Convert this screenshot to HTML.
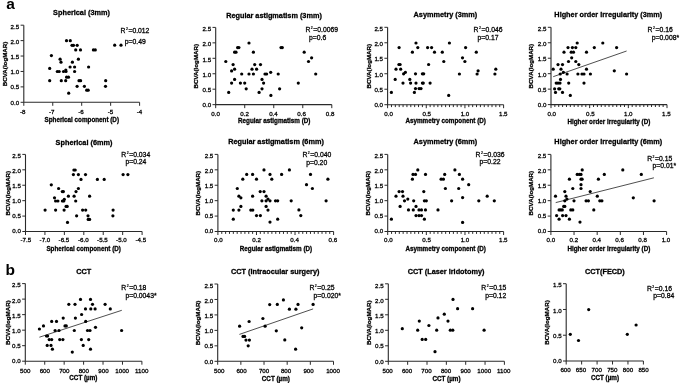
<!DOCTYPE html>
<html><head><meta charset="utf-8"><title>Figure</title>
<style>
html,body{margin:0;padding:0;background:#fff;}
body{width:685px;height:383px;overflow:hidden;}
svg{display:block;filter:grayscale(1);}
text{font-family:"Liberation Sans",sans-serif;fill:#000;stroke:#000;stroke-width:0.28px;}
.tl{font-size:6.2px;}
.ti{font-size:7.3px;font-weight:bold;}
.xl{font-size:6.3px;font-weight:bold;}
.st{font-size:6.8px;}
.yl{font-size:6.2px;font-weight:bold;}
.sup{font-size:3.4px;baseline-shift:3.1px;stroke-width:0.2px;}
.pl{font-size:15.5px;font-weight:bold;fill:#000;stroke:none;}
.ax{fill:none;stroke:#2a2a2a;stroke-width:1.1;}
.tk{fill:none;stroke:#2a2a2a;stroke-width:1;}
.rl{fill:none;stroke:#222;stroke-width:0.8;}
.dt circle{fill:#000;}
</style></head>
<body><svg width="685" height="383" viewBox="0 0 685 383">
<rect width="100%" height="100%" fill="#fff"/>
<path d="M23.8 25.2V102.3H139.6" class="ax"/>
<text x="19.2" y="104.55" class="tl" text-anchor="end">0.0</text>
<text x="19.2" y="89.45" class="tl" text-anchor="end">0.5</text>
<text x="19.2" y="74.35" class="tl" text-anchor="end">1.0</text>
<text x="19.2" y="59.25" class="tl" text-anchor="end">1.5</text>
<text x="19.2" y="44.15" class="tl" text-anchor="end">2.0</text>
<text x="19.2" y="29.05" class="tl" text-anchor="end">2.5</text>
<text x="22.65" y="113.6" class="tl" text-anchor="middle">-8</text>
<text x="51.75" y="113.6" class="tl" text-anchor="middle">-7</text>
<text x="81.05" y="113.6" class="tl" text-anchor="middle">-6</text>
<text x="110.45" y="113.6" class="tl" text-anchor="middle">-5</text>
<text x="139.55" y="113.6" class="tl" text-anchor="middle">-4</text>
<path d="M20.6 102.3H23.8M20.6 86.88H23.8M20.6 71.46H23.8M20.6 56.04H23.8M20.6 40.62H23.8M20.6 25.2H23.8M23.8 102.3V105.8M52.75 102.3V105.8M81.7 102.3V105.8M110.65 102.3V105.8M139.6 102.3V105.8" class="tk"/>
<text x="81.5" y="15.2" class="ti" text-anchor="middle">Spherical (3mm)</text>
<text x="81.75" y="121.7" class="xl" text-anchor="middle">Spherical component (D)</text>
<text transform="translate(6.8 63.95) rotate(-90)" x="0" y="0" class="yl" text-anchor="middle">BCVA(logMAR)</text>
<text x="120.5" y="32.8" class="st">R<tspan class="sup" dx="0.5">2</tspan><tspan dx="0.6">=0.012</tspan></text>
<text x="124.8" y="43.9" class="st">p=0.49</text>
<g class="dt"><circle cx="66.5" cy="40.7" r="1.6"/><circle cx="70.3" cy="40.7" r="1.6"/><circle cx="72" cy="45.3" r="1.6"/><circle cx="73.5" cy="45.3" r="1.6"/><circle cx="77.2" cy="45.3" r="1.6"/><circle cx="75.7" cy="49.9" r="1.6"/><circle cx="80.5" cy="49.9" r="1.6"/><circle cx="93.4" cy="49.9" r="1.6"/><circle cx="95.3" cy="49.9" r="1.6"/><circle cx="114.7" cy="45.2" r="1.6"/><circle cx="121" cy="45.2" r="1.6"/><circle cx="51.4" cy="55.6" r="1.6"/><circle cx="60.1" cy="59.2" r="1.6"/><circle cx="61" cy="62.2" r="1.6"/><circle cx="78.4" cy="59.2" r="1.6"/><circle cx="72.4" cy="62.2" r="1.6"/><circle cx="70.1" cy="67" r="1.6"/><circle cx="74.6" cy="67" r="1.6"/><circle cx="88.6" cy="67" r="1.6"/><circle cx="49.7" cy="68.4" r="1.6"/><circle cx="57.3" cy="71.5" r="1.6"/><circle cx="59.2" cy="71.5" r="1.6"/><circle cx="63.5" cy="71.5" r="1.6"/><circle cx="65.8" cy="70" r="1.6"/><circle cx="66" cy="71.5" r="1.6"/><circle cx="74.6" cy="71.5" r="1.6"/><circle cx="66.6" cy="77.2" r="1.6"/><circle cx="68.5" cy="77.2" r="1.6"/><circle cx="49.7" cy="80.7" r="1.6"/><circle cx="61.3" cy="80.7" r="1.6"/><circle cx="65.7" cy="80.7" r="1.6"/><circle cx="79" cy="80.7" r="1.6"/><circle cx="80.6" cy="80.7" r="1.6"/><circle cx="105.7" cy="80.7" r="1.6"/><circle cx="77.1" cy="86.3" r="1.6"/><circle cx="84.4" cy="86.3" r="1.6"/><circle cx="105.5" cy="86.3" r="1.6"/><circle cx="86.7" cy="90.2" r="1.6"/><circle cx="88.2" cy="90.2" r="1.6"/><circle cx="68.7" cy="93.2" r="1.6"/></g>
<path d="M215.7 27.4V104.65H331.8" class="ax"/>
<text x="211.1" y="106.9" class="tl" text-anchor="end">0.0</text>
<text x="211.1" y="91.77" class="tl" text-anchor="end">0.5</text>
<text x="211.1" y="76.64" class="tl" text-anchor="end">1.0</text>
<text x="211.1" y="61.51" class="tl" text-anchor="end">1.5</text>
<text x="211.1" y="46.38" class="tl" text-anchor="end">2.0</text>
<text x="211.1" y="31.25" class="tl" text-anchor="end">2.5</text>
<text x="215.65" y="115.95" class="tl" text-anchor="middle">0.0</text>
<text x="244.65" y="115.95" class="tl" text-anchor="middle">0.2</text>
<text x="273.45" y="115.95" class="tl" text-anchor="middle">0.4</text>
<text x="301.65" y="115.95" class="tl" text-anchor="middle">0.6</text>
<text x="330.15" y="115.95" class="tl" text-anchor="middle">0.8</text>
<path d="M212.5 104.65H215.7M212.5 89.2H215.7M212.5 73.75H215.7M212.5 58.3H215.7M212.5 42.85H215.7M212.5 27.4H215.7M215.7 104.65V108.15M244.72 104.65V108.15M273.75 104.65V108.15M302.77 104.65V108.15M331.8 104.65V108.15" class="tk"/>
<text x="274" y="17.8" class="ti" text-anchor="middle">Regular astigmatism (3mm)</text>
<text x="274.25" y="123.4" class="xl" text-anchor="middle">Regular astigmatism (D)</text>
<text transform="translate(197.7 66.23) rotate(-90)" x="0" y="0" class="yl" text-anchor="middle">BCVA(logMAR)</text>
<text x="305.4" y="31.7" class="st">R<tspan class="sup" dx="0.5">2</tspan><tspan dx="0.6">=0.0069</tspan></text>
<text x="309.1" y="39.7" class="st">p=0.6</text>
<g class="dt"><circle cx="249" cy="43" r="1.6"/><circle cx="237.6" cy="47.6" r="1.6"/><circle cx="238.9" cy="47.6" r="1.6"/><circle cx="234.6" cy="52.2" r="1.6"/><circle cx="236" cy="52.2" r="1.6"/><circle cx="253.4" cy="52.2" r="1.6"/><circle cx="225.8" cy="61.5" r="1.6"/><circle cx="233.1" cy="64.6" r="1.6"/><circle cx="254.7" cy="64.6" r="1.6"/><circle cx="260.5" cy="64.6" r="1.6"/><circle cx="231.6" cy="70.9" r="1.6"/><circle cx="234.6" cy="69.2" r="1.6"/><circle cx="252" cy="69.2" r="1.6"/><circle cx="256.6" cy="69.2" r="1.6"/><circle cx="241.7" cy="74" r="1.6"/><circle cx="249" cy="74" r="1.6"/><circle cx="253.4" cy="74" r="1.6"/><circle cx="265" cy="74" r="1.6"/><circle cx="266.6" cy="74" r="1.6"/><circle cx="270.7" cy="72.3" r="1.6"/><circle cx="234.6" cy="79.4" r="1.6"/><circle cx="262" cy="79.4" r="1.6"/><circle cx="231.6" cy="83.1" r="1.6"/><circle cx="240.4" cy="83.1" r="1.6"/><circle cx="244.7" cy="83.1" r="1.6"/><circle cx="263.6" cy="83.1" r="1.6"/><circle cx="246.2" cy="88.8" r="1.6"/><circle cx="262" cy="88.8" r="1.6"/><circle cx="228.7" cy="92.4" r="1.6"/><circle cx="259.1" cy="92.4" r="1.6"/><circle cx="270.9" cy="95.4" r="1.6"/><circle cx="281" cy="47.6" r="1.6"/><circle cx="282.3" cy="47.6" r="1.6"/><circle cx="304.2" cy="52.2" r="1.6"/><circle cx="311.6" cy="57.8" r="1.6"/><circle cx="308.5" cy="61.5" r="1.6"/><circle cx="278.2" cy="74" r="1.6"/><circle cx="315.7" cy="74" r="1.6"/><circle cx="298.3" cy="83.1" r="1.6"/><circle cx="279.6" cy="88.8" r="1.6"/></g>
<path d="M387.6 27.3V104.7H503.6" class="ax"/>
<text x="383" y="106.95" class="tl" text-anchor="end">0.0</text>
<text x="383" y="91.79" class="tl" text-anchor="end">0.5</text>
<text x="383" y="76.63" class="tl" text-anchor="end">1.0</text>
<text x="383" y="61.47" class="tl" text-anchor="end">1.5</text>
<text x="383" y="46.31" class="tl" text-anchor="end">2.0</text>
<text x="383" y="31.15" class="tl" text-anchor="end">2.5</text>
<text x="388.65" y="116" class="tl" text-anchor="middle">0.0</text>
<text x="426.75" y="116" class="tl" text-anchor="middle">0.5</text>
<text x="464.95" y="116" class="tl" text-anchor="middle">1.0</text>
<text x="503.25" y="116" class="tl" text-anchor="middle">1.5</text>
<path d="M384.4 104.7H387.6M384.4 89.22H387.6M384.4 73.74H387.6M384.4 58.26H387.6M384.4 42.78H387.6M384.4 27.3H387.6M387.6 104.7V108.2M426.27 104.7V108.2M464.93 104.7V108.2M503.6 104.7V108.2M391.47 104.7V107.1M395.33 104.7V107.1M399.2 104.7V107.1M403.07 104.7V107.1M406.93 104.7V107.1M410.8 104.7V107.1M414.67 104.7V107.1M418.53 104.7V107.1M422.4 104.7V107.1M430.13 104.7V107.1M434 104.7V107.1M437.87 104.7V107.1M441.73 104.7V107.1M445.6 104.7V107.1M449.47 104.7V107.1M453.33 104.7V107.1M457.2 104.7V107.1M461.07 104.7V107.1M468.8 104.7V107.1M472.67 104.7V107.1M476.53 104.7V107.1M480.4 104.7V107.1M484.27 104.7V107.1M488.13 104.7V107.1M492 104.7V107.1M495.87 104.7V107.1M499.73 104.7V107.1" class="tk"/>
<text x="445.4" y="17.4" class="ti" text-anchor="middle">Asymmetry (3mm)</text>
<text x="445.7" y="123.4" class="xl" text-anchor="middle">Asymmetry component (D)</text>
<text transform="translate(370.7 66.2) rotate(-90)" x="0" y="0" class="yl" text-anchor="middle">BCVA(logMAR)</text>
<text x="473.6" y="31.7" class="st">R<tspan class="sup" dx="0.5">2</tspan><tspan dx="0.6">=0.046</tspan></text>
<text x="477.6" y="39.7" class="st">p=0.17</text>
<g class="dt"><circle cx="416" cy="43" r="1.6"/><circle cx="399.1" cy="47.6" r="1.6"/><circle cx="417.8" cy="47.6" r="1.6"/><circle cx="427.6" cy="47.6" r="1.6"/><circle cx="431.6" cy="47.6" r="1.6"/><circle cx="412.4" cy="52.2" r="1.6"/><circle cx="434.5" cy="52.2" r="1.6"/><circle cx="442.3" cy="52.2" r="1.6"/><circle cx="443.8" cy="61.5" r="1.6"/><circle cx="398.9" cy="64.5" r="1.6"/><circle cx="400.1" cy="64.5" r="1.6"/><circle cx="428.6" cy="64.5" r="1.6"/><circle cx="396" cy="69.2" r="1.6"/><circle cx="400.7" cy="69.2" r="1.6"/><circle cx="403.6" cy="73.8" r="1.6"/><circle cx="405.4" cy="72.3" r="1.6"/><circle cx="415.5" cy="73.8" r="1.6"/><circle cx="422.4" cy="73.8" r="1.6"/><circle cx="423.7" cy="73.8" r="1.6"/><circle cx="395.2" cy="79.4" r="1.6"/><circle cx="409.8" cy="79.4" r="1.6"/><circle cx="403" cy="83.1" r="1.6"/><circle cx="410.6" cy="83.1" r="1.6"/><circle cx="416" cy="83.1" r="1.6"/><circle cx="422.4" cy="83.1" r="1.6"/><circle cx="423.3" cy="83.1" r="1.6"/><circle cx="430.1" cy="83.1" r="1.6"/><circle cx="415.5" cy="88.6" r="1.6"/><circle cx="419.1" cy="88.6" r="1.6"/><circle cx="421" cy="88.6" r="1.6"/><circle cx="391.4" cy="92.4" r="1.6"/><circle cx="414.4" cy="92.4" r="1.6"/><circle cx="449.4" cy="43" r="1.6"/><circle cx="465.6" cy="47.6" r="1.6"/><circle cx="476.3" cy="52.2" r="1.6"/><circle cx="462.5" cy="57.8" r="1.6"/><circle cx="464.9" cy="61.5" r="1.6"/><circle cx="459.4" cy="74" r="1.6"/><circle cx="478.1" cy="70.8" r="1.6"/><circle cx="477.1" cy="74" r="1.6"/><circle cx="495.8" cy="69.2" r="1.6"/><circle cx="494.9" cy="74" r="1.6"/><circle cx="448.7" cy="95.4" r="1.6"/></g>
<path d="M551 27.3V104.6H667" class="ax"/>
<text x="546.4" y="106.85" class="tl" text-anchor="end">0.0</text>
<text x="546.4" y="91.71" class="tl" text-anchor="end">0.5</text>
<text x="546.4" y="76.57" class="tl" text-anchor="end">1.0</text>
<text x="546.4" y="61.43" class="tl" text-anchor="end">1.5</text>
<text x="546.4" y="46.29" class="tl" text-anchor="end">2.0</text>
<text x="546.4" y="31.15" class="tl" text-anchor="end">2.5</text>
<text x="551.75" y="115.9" class="tl" text-anchor="middle">0.0</text>
<text x="590.35" y="115.9" class="tl" text-anchor="middle">0.5</text>
<text x="628.25" y="115.9" class="tl" text-anchor="middle">1.0</text>
<text x="666.35" y="115.9" class="tl" text-anchor="middle">1.5</text>
<path d="M547.8 104.6H551M547.8 89.14H551M547.8 73.68H551M547.8 58.22H551M547.8 42.76H551M547.8 27.3H551M551 104.6V108.1M589.67 104.6V108.1M628.33 104.6V108.1M667 104.6V108.1M554.87 104.6V107M558.73 104.6V107M562.6 104.6V107M566.47 104.6V107M570.33 104.6V107M574.2 104.6V107M578.07 104.6V107M581.93 104.6V107M585.8 104.6V107M593.53 104.6V107M597.4 104.6V107M601.27 104.6V107M605.13 104.6V107M609 104.6V107M612.87 104.6V107M616.73 104.6V107M620.6 104.6V107M624.47 104.6V107M632.2 104.6V107M636.07 104.6V107M639.93 104.6V107M643.8 104.6V107M647.67 104.6V107M651.53 104.6V107M655.4 104.6V107M659.27 104.6V107M663.13 104.6V107" class="tk"/>
<text x="608.3" y="17.2" class="ti" text-anchor="middle">Higher order irregularity (3mm)</text>
<text x="608.9" y="123.7" class="xl" text-anchor="middle">Higher order irregularity (D)</text>
<text transform="translate(532.9 66.15) rotate(-90)" x="0" y="0" class="yl" text-anchor="middle">BCVA(logMAR)</text>
<text x="647.6" y="31.7" class="st">R<tspan class="sup" dx="0.5">2</tspan><tspan dx="0.6">=0.16</tspan></text>
<text x="651.7" y="39.7" class="st">p=0.008*</text>
<path d="M553.2 76.7L626.6 51" class="rl"/>
<g class="dt"><circle cx="577.2" cy="43" r="1.6"/><circle cx="602.8" cy="43" r="1.6"/><circle cx="568" cy="47.6" r="1.6"/><circle cx="572.4" cy="47.6" r="1.6"/><circle cx="575.8" cy="47.6" r="1.6"/><circle cx="594.3" cy="47.6" r="1.6"/><circle cx="564" cy="52.2" r="1.6"/><circle cx="571.2" cy="52.2" r="1.6"/><circle cx="573.5" cy="52.2" r="1.6"/><circle cx="586.5" cy="52.2" r="1.6"/><circle cx="571.7" cy="57.8" r="1.6"/><circle cx="568.5" cy="61.5" r="1.6"/><circle cx="575.8" cy="61.5" r="1.6"/><circle cx="558" cy="64.6" r="1.6"/><circle cx="562.5" cy="64.6" r="1.6"/><circle cx="578.8" cy="64.6" r="1.6"/><circle cx="553.2" cy="69.2" r="1.6"/><circle cx="561" cy="69.2" r="1.6"/><circle cx="586.5" cy="69.2" r="1.6"/><circle cx="563.4" cy="72.3" r="1.6"/><circle cx="560.2" cy="74" r="1.6"/><circle cx="567.1" cy="74" r="1.6"/><circle cx="577.9" cy="74" r="1.6"/><circle cx="582" cy="74" r="1.6"/><circle cx="584" cy="74" r="1.6"/><circle cx="590.4" cy="74" r="1.6"/><circle cx="560.5" cy="79.4" r="1.6"/><circle cx="556.2" cy="83.1" r="1.6"/><circle cx="558" cy="83.1" r="1.6"/><circle cx="560" cy="83.1" r="1.6"/><circle cx="568.7" cy="83.1" r="1.6"/><circle cx="584" cy="83.1" r="1.6"/><circle cx="554.6" cy="88.8" r="1.6"/><circle cx="558.7" cy="88.8" r="1.6"/><circle cx="559.8" cy="88.8" r="1.6"/><circle cx="555.5" cy="92.4" r="1.6"/><circle cx="562.5" cy="92.4" r="1.6"/><circle cx="570.3" cy="95.4" r="1.6"/><circle cx="616.6" cy="47.6" r="1.6"/><circle cx="614.3" cy="70.8" r="1.6"/><circle cx="626.6" cy="74" r="1.6"/></g>
<path d="M25.5 154.4V231.5H142.1" class="ax"/>
<text x="20.9" y="233.35" class="tl" text-anchor="end">0.0</text>
<text x="20.9" y="218.21" class="tl" text-anchor="end">0.5</text>
<text x="20.9" y="203.07" class="tl" text-anchor="end">1.0</text>
<text x="20.9" y="187.93" class="tl" text-anchor="end">1.5</text>
<text x="20.9" y="172.79" class="tl" text-anchor="end">2.0</text>
<text x="20.9" y="157.65" class="tl" text-anchor="end">2.5</text>
<text x="25.75" y="242.3" class="tl" text-anchor="middle">-7.5</text>
<text x="44.95" y="242.3" class="tl" text-anchor="middle">-7.0</text>
<text x="63.95" y="242.3" class="tl" text-anchor="middle">-6.5</text>
<text x="83.25" y="242.3" class="tl" text-anchor="middle">-6.0</text>
<text x="102.45" y="242.3" class="tl" text-anchor="middle">-5.5</text>
<text x="121.45" y="242.3" class="tl" text-anchor="middle">-5.0</text>
<text x="140.75" y="242.3" class="tl" text-anchor="middle">-4.5</text>
<path d="M22.3 231.5H25.5M22.3 216.08H25.5M22.3 200.66H25.5M22.3 185.24H25.5M22.3 169.82H25.5M22.3 154.4H25.5M25.5 231.5V235M44.93 231.5V235M64.37 231.5V235M83.8 231.5V235M103.23 231.5V235M122.67 231.5V235M142.1 231.5V235" class="tk"/>
<text x="84" y="144.5" class="ti" text-anchor="middle">Spherical (6mm)</text>
<text x="83.65" y="251" class="xl" text-anchor="middle">Spherical component (D)</text>
<text transform="translate(9.9 193.15) rotate(-90)" x="0" y="0" class="yl" text-anchor="middle">BCVA(logMAR)</text>
<text x="121.3" y="156.8" class="st">R<tspan class="sup" dx="0.5">2</tspan><tspan dx="0.6">=0.034</tspan></text>
<text x="125.4" y="164.4" class="st">p=0.24</text>
<g class="dt"><circle cx="73.9" cy="170" r="1.6"/><circle cx="75.2" cy="170" r="1.6"/><circle cx="73.4" cy="174.6" r="1.6"/><circle cx="78.4" cy="174.6" r="1.6"/><circle cx="51.3" cy="184.8" r="1.6"/><circle cx="58.6" cy="188.5" r="1.6"/><circle cx="78.4" cy="188.5" r="1.6"/><circle cx="62.3" cy="191.6" r="1.6"/><circle cx="63.4" cy="191.6" r="1.6"/><circle cx="76" cy="191.6" r="1.6"/><circle cx="68.4" cy="196.2" r="1.6"/><circle cx="74.1" cy="196.2" r="1.6"/><circle cx="54.5" cy="197.8" r="1.6"/><circle cx="55.6" cy="201" r="1.6"/><circle cx="57.9" cy="201" r="1.6"/><circle cx="62.4" cy="201" r="1.6"/><circle cx="64.3" cy="199.3" r="1.6"/><circle cx="63.8" cy="201" r="1.6"/><circle cx="75.7" cy="201" r="1.6"/><circle cx="66.1" cy="206.4" r="1.6"/><circle cx="67.2" cy="206.4" r="1.6"/><circle cx="45.1" cy="210.1" r="1.6"/><circle cx="55.6" cy="210.1" r="1.6"/><circle cx="64.1" cy="210.1" r="1.6"/><circle cx="82.6" cy="210.1" r="1.6"/><circle cx="85.7" cy="210.1" r="1.6"/><circle cx="76.6" cy="215.8" r="1.6"/><circle cx="67.5" cy="222.4" r="1.6"/><circle cx="85.5" cy="174.6" r="1.6"/><circle cx="81" cy="179.4" r="1.6"/><circle cx="97.4" cy="179.4" r="1.6"/><circle cx="104.2" cy="179.4" r="1.6"/><circle cx="123.1" cy="174.6" r="1.6"/><circle cx="127.9" cy="174.6" r="1.6"/><circle cx="89.6" cy="196.2" r="1.6"/><circle cx="88" cy="215.8" r="1.6"/><circle cx="88.2" cy="219.4" r="1.6"/><circle cx="89.6" cy="219.4" r="1.6"/><circle cx="113.1" cy="210.1" r="1.6"/><circle cx="112.9" cy="215.8" r="1.6"/></g>
<path d="M217.9 154.4V231.5H333.6" class="ax"/>
<text x="213.3" y="233.35" class="tl" text-anchor="end">0.0</text>
<text x="213.3" y="218.21" class="tl" text-anchor="end">0.5</text>
<text x="213.3" y="203.07" class="tl" text-anchor="end">1.0</text>
<text x="213.3" y="187.93" class="tl" text-anchor="end">1.5</text>
<text x="213.3" y="172.79" class="tl" text-anchor="end">2.0</text>
<text x="213.3" y="157.65" class="tl" text-anchor="end">2.5</text>
<text x="218.35" y="242.3" class="tl" text-anchor="middle">0.0</text>
<text x="256.65" y="242.3" class="tl" text-anchor="middle">0.2</text>
<text x="294.65" y="242.3" class="tl" text-anchor="middle">0.4</text>
<text x="332.85" y="242.3" class="tl" text-anchor="middle">0.6</text>
<path d="M214.7 231.5H217.9M214.7 216.08H217.9M214.7 200.66H217.9M214.7 185.24H217.9M214.7 169.82H217.9M214.7 154.4H217.9M217.9 231.5V235M256.47 231.5V235M295.03 231.5V235M333.6 231.5V235M221.76 231.5V233.9M225.61 231.5V233.9M229.47 231.5V233.9M233.33 231.5V233.9M237.18 231.5V233.9M241.04 231.5V233.9M244.9 231.5V233.9M248.75 231.5V233.9M252.61 231.5V233.9M260.32 231.5V233.9M264.18 231.5V233.9M268.04 231.5V233.9M271.89 231.5V233.9M275.75 231.5V233.9M279.61 231.5V233.9M283.46 231.5V233.9M287.32 231.5V233.9M291.18 231.5V233.9M298.89 231.5V233.9M302.75 231.5V233.9M306.6 231.5V233.9M310.46 231.5V233.9M314.32 231.5V233.9M318.17 231.5V233.9M322.03 231.5V233.9M325.89 231.5V233.9M329.74 231.5V233.9" class="tk"/>
<text x="276" y="144.3" class="ti" text-anchor="middle">Regular astigmatism (6mm)</text>
<text x="276" y="250.7" class="xl" text-anchor="middle">Regular astigmatism (D)</text>
<text transform="translate(199.9 193.15) rotate(-90)" x="0" y="0" class="yl" text-anchor="middle">BCVA(logMAR)</text>
<text x="302.4" y="156.8" class="st">R<tspan class="sup" dx="0.5">2</tspan><tspan dx="0.6">=0.040</tspan></text>
<text x="306.2" y="164.6" class="st">p=0.20</text>
<g class="dt"><circle cx="264" cy="169.9" r="1.6"/><circle cx="246.7" cy="174.4" r="1.6"/><circle cx="252.6" cy="174.4" r="1.6"/><circle cx="270" cy="174.4" r="1.6"/><circle cx="242.8" cy="179.2" r="1.6"/><circle cx="256.5" cy="179.2" r="1.6"/><circle cx="271.8" cy="179.2" r="1.6"/><circle cx="237.3" cy="188.5" r="1.6"/><circle cx="260.2" cy="191.6" r="1.6"/><circle cx="264" cy="191.6" r="1.6"/><circle cx="238.9" cy="196.2" r="1.6"/><circle cx="240.9" cy="197.8" r="1.6"/><circle cx="252.6" cy="196.2" r="1.6"/><circle cx="266.1" cy="196.2" r="1.6"/><circle cx="261.9" cy="200.8" r="1.6"/><circle cx="266.1" cy="200.8" r="1.6"/><circle cx="268" cy="199.1" r="1.6"/><circle cx="270" cy="200.8" r="1.6"/><circle cx="275.5" cy="200.8" r="1.6"/><circle cx="277.7" cy="200.8" r="1.6"/><circle cx="240.9" cy="206.4" r="1.6"/><circle cx="266.1" cy="206.4" r="1.6"/><circle cx="233.3" cy="210.1" r="1.6"/><circle cx="238.9" cy="210.1" r="1.6"/><circle cx="250.8" cy="210.1" r="1.6"/><circle cx="252.8" cy="210.1" r="1.6"/><circle cx="268" cy="210.1" r="1.6"/><circle cx="256.5" cy="215.6" r="1.6"/><circle cx="260.4" cy="215.6" r="1.6"/><circle cx="233.3" cy="219.2" r="1.6"/><circle cx="270" cy="222.1" r="1.6"/><circle cx="277.7" cy="219.2" r="1.6"/><circle cx="289.4" cy="169.9" r="1.6"/><circle cx="281.6" cy="174.4" r="1.6"/><circle cx="310.5" cy="174.4" r="1.6"/><circle cx="327.9" cy="179.2" r="1.6"/><circle cx="306.5" cy="184.7" r="1.6"/><circle cx="312.4" cy="188.5" r="1.6"/><circle cx="291.2" cy="200.8" r="1.6"/><circle cx="326.1" cy="200.8" r="1.6"/><circle cx="298.9" cy="209.9" r="1.6"/><circle cx="300.8" cy="215.6" r="1.6"/></g>
<path d="M387.7 154.4V231.5H503.6" class="ax"/>
<text x="383.1" y="233.35" class="tl" text-anchor="end">0.0</text>
<text x="383.1" y="218.21" class="tl" text-anchor="end">0.5</text>
<text x="383.1" y="203.07" class="tl" text-anchor="end">1.0</text>
<text x="383.1" y="187.93" class="tl" text-anchor="end">1.5</text>
<text x="383.1" y="172.79" class="tl" text-anchor="end">2.0</text>
<text x="383.1" y="157.65" class="tl" text-anchor="end">2.5</text>
<text x="388.35" y="242.3" class="tl" text-anchor="middle">0.0</text>
<text x="426.65" y="242.3" class="tl" text-anchor="middle">0.5</text>
<text x="464.95" y="242.3" class="tl" text-anchor="middle">1.0</text>
<text x="503.25" y="242.3" class="tl" text-anchor="middle">1.5</text>
<path d="M384.5 231.5H387.7M384.5 216.08H387.7M384.5 200.66H387.7M384.5 185.24H387.7M384.5 169.82H387.7M384.5 154.4H387.7M387.7 231.5V235M426.33 231.5V235M464.97 231.5V235M503.6 231.5V235M391.56 231.5V233.9M395.43 231.5V233.9M399.29 231.5V233.9M403.15 231.5V233.9M407.02 231.5V233.9M410.88 231.5V233.9M414.74 231.5V233.9M418.61 231.5V233.9M422.47 231.5V233.9M430.2 231.5V233.9M434.06 231.5V233.9M437.92 231.5V233.9M441.79 231.5V233.9M445.65 231.5V233.9M449.51 231.5V233.9M453.38 231.5V233.9M457.24 231.5V233.9M461.1 231.5V233.9M468.83 231.5V233.9M472.69 231.5V233.9M476.56 231.5V233.9M480.42 231.5V233.9M484.28 231.5V233.9M488.15 231.5V233.9M492.01 231.5V233.9M495.87 231.5V233.9M499.74 231.5V233.9" class="tk"/>
<text x="445.4" y="144.4" class="ti" text-anchor="middle">Asymmetry (6mm)</text>
<text x="445.7" y="251" class="xl" text-anchor="middle">Asymmetry component (D)</text>
<text transform="translate(370.4 193.15) rotate(-90)" x="0" y="0" class="yl" text-anchor="middle">BCVA(logMAR)</text>
<text x="475.6" y="156.8" class="st">R<tspan class="sup" dx="0.5">2</tspan><tspan dx="0.6">=0.036</tspan></text>
<text x="479.5" y="164.4" class="st">p=0.22</text>
<g class="dt"><circle cx="417.8" cy="169.9" r="1.6"/><circle cx="413" cy="174.4" r="1.6"/><circle cx="415.5" cy="174.4" r="1.6"/><circle cx="425.5" cy="174.4" r="1.6"/><circle cx="444.7" cy="174.4" r="1.6"/><circle cx="412.4" cy="179.2" r="1.6"/><circle cx="441.1" cy="179.2" r="1.6"/><circle cx="443.4" cy="179.2" r="1.6"/><circle cx="445.4" cy="188.5" r="1.6"/><circle cx="399.1" cy="191.6" r="1.6"/><circle cx="402.5" cy="191.6" r="1.6"/><circle cx="423.8" cy="191.6" r="1.6"/><circle cx="396" cy="196.2" r="1.6"/><circle cx="403" cy="196.2" r="1.6"/><circle cx="404.5" cy="200.8" r="1.6"/><circle cx="407.8" cy="199.1" r="1.6"/><circle cx="413.7" cy="200.8" r="1.6"/><circle cx="424.4" cy="200.8" r="1.6"/><circle cx="426.3" cy="200.8" r="1.6"/><circle cx="400.1" cy="206.4" r="1.6"/><circle cx="416" cy="206.4" r="1.6"/><circle cx="408.5" cy="209.9" r="1.6"/><circle cx="413.3" cy="209.9" r="1.6"/><circle cx="419" cy="209.9" r="1.6"/><circle cx="421.5" cy="209.9" r="1.6"/><circle cx="425.5" cy="209.9" r="1.6"/><circle cx="438" cy="209.9" r="1.6"/><circle cx="416" cy="215.6" r="1.6"/><circle cx="419" cy="215.6" r="1.6"/><circle cx="421.5" cy="215.6" r="1.6"/><circle cx="391.4" cy="219.2" r="1.6"/><circle cx="424.4" cy="219.2" r="1.6"/><circle cx="454.9" cy="169.9" r="1.6"/><circle cx="459.4" cy="174.4" r="1.6"/><circle cx="462.6" cy="179.2" r="1.6"/><circle cx="468.7" cy="184.7" r="1.6"/><circle cx="458.7" cy="188.5" r="1.6"/><circle cx="451.6" cy="200.8" r="1.6"/><circle cx="462.6" cy="197.6" r="1.6"/><circle cx="478.8" cy="200.8" r="1.6"/><circle cx="487.2" cy="196.2" r="1.6"/><circle cx="494.3" cy="200.8" r="1.6"/><circle cx="462.6" cy="222.4" r="1.6"/></g>
<path d="M550.9 154.4V231.5H666.6" class="ax"/>
<text x="546.3" y="233.35" class="tl" text-anchor="end">0.0</text>
<text x="546.3" y="218.21" class="tl" text-anchor="end">0.5</text>
<text x="546.3" y="203.07" class="tl" text-anchor="end">1.0</text>
<text x="546.3" y="187.93" class="tl" text-anchor="end">1.5</text>
<text x="546.3" y="172.79" class="tl" text-anchor="end">2.0</text>
<text x="546.3" y="157.65" class="tl" text-anchor="end">2.5</text>
<text x="550.85" y="242.3" class="tl" text-anchor="middle">0.0</text>
<text x="573.85" y="242.3" class="tl" text-anchor="middle">0.2</text>
<text x="596.75" y="242.3" class="tl" text-anchor="middle">0.4</text>
<text x="619.65" y="242.3" class="tl" text-anchor="middle">0.6</text>
<text x="642.65" y="242.3" class="tl" text-anchor="middle">0.8</text>
<text x="665.95" y="242.3" class="tl" text-anchor="middle">1.0</text>
<path d="M547.7 231.5H550.9M547.7 216.08H550.9M547.7 200.66H550.9M547.7 185.24H550.9M547.7 169.82H550.9M547.7 154.4H550.9M550.9 231.5V235M574.04 231.5V235M597.18 231.5V235M620.32 231.5V235M643.46 231.5V235M666.6 231.5V235" class="tk"/>
<text x="608.3" y="144.2" class="ti" text-anchor="middle">Higher order irregularity (6mm)</text>
<text x="608.9" y="251" class="xl" text-anchor="middle">Higher order irregularity (D)</text>
<text transform="translate(532.9 193.15) rotate(-90)" x="0" y="0" class="yl" text-anchor="middle">BCVA(logMAR)</text>
<text x="647.2" y="160.7" class="st">R<tspan class="sup" dx="0.5">2</tspan><tspan dx="0.6">=0.15</tspan></text>
<text x="652.5" y="168.1" class="st">p=0.01*</text>
<path d="M555.7 202.6L653.9 177.8" class="rl"/>
<g class="dt"><circle cx="582.2" cy="169.9" r="1.6"/><circle cx="577.2" cy="174.4" r="1.6"/><circle cx="579.4" cy="174.4" r="1.6"/><circle cx="581" cy="174.4" r="1.6"/><circle cx="604.3" cy="174.4" r="1.6"/><circle cx="569.4" cy="179.2" r="1.6"/><circle cx="581" cy="179.2" r="1.6"/><circle cx="582.1" cy="179.2" r="1.6"/><circle cx="598.4" cy="179.2" r="1.6"/><circle cx="581" cy="184.7" r="1.6"/><circle cx="572.8" cy="188.5" r="1.6"/><circle cx="581" cy="188.5" r="1.6"/><circle cx="564.8" cy="191.6" r="1.6"/><circle cx="590.2" cy="191.6" r="1.6"/><circle cx="555.5" cy="196.2" r="1.6"/><circle cx="566" cy="196.2" r="1.6"/><circle cx="597.3" cy="196.2" r="1.6"/><circle cx="566.9" cy="199.1" r="1.6"/><circle cx="564.8" cy="200.8" r="1.6"/><circle cx="574" cy="200.8" r="1.6"/><circle cx="586.1" cy="200.8" r="1.6"/><circle cx="588.4" cy="200.8" r="1.6"/><circle cx="599.8" cy="200.8" r="1.6"/><circle cx="601.9" cy="200.8" r="1.6"/><circle cx="563.7" cy="206.4" r="1.6"/><circle cx="564.8" cy="206.4" r="1.6"/><circle cx="559.1" cy="209.9" r="1.6"/><circle cx="560.7" cy="209.9" r="1.6"/><circle cx="562.3" cy="209.9" r="1.6"/><circle cx="570.8" cy="209.9" r="1.6"/><circle cx="572.8" cy="209.9" r="1.6"/><circle cx="593.8" cy="209.9" r="1.6"/><circle cx="556.6" cy="215.6" r="1.6"/><circle cx="562.6" cy="215.6" r="1.6"/><circle cx="566" cy="215.6" r="1.6"/><circle cx="559.1" cy="219.2" r="1.6"/><circle cx="569.4" cy="219.2" r="1.6"/><circle cx="580" cy="222.1" r="1.6"/><circle cx="622.8" cy="169.9" r="1.6"/><circle cx="641.3" cy="174.4" r="1.6"/><circle cx="633.3" cy="197.8" r="1.6"/><circle cx="654.1" cy="200.8" r="1.6"/></g>
<path d="M25.3 283.6V361.2H141.9" class="ax"/>
<text x="20.7" y="363.45" class="tl" text-anchor="end">0.0</text>
<text x="20.7" y="348.23" class="tl" text-anchor="end">0.5</text>
<text x="20.7" y="333.01" class="tl" text-anchor="end">1.0</text>
<text x="20.7" y="317.79" class="tl" text-anchor="end">1.5</text>
<text x="20.7" y="302.57" class="tl" text-anchor="end">2.0</text>
<text x="20.7" y="287.35" class="tl" text-anchor="end">2.5</text>
<text x="25.2" y="372.5" class="tl" text-anchor="middle">500</text>
<text x="44.8" y="372.5" class="tl" text-anchor="middle">600</text>
<text x="64.35" y="372.5" class="tl" text-anchor="middle">700</text>
<text x="83.85" y="372.5" class="tl" text-anchor="middle">800</text>
<text x="103.45" y="372.5" class="tl" text-anchor="middle">900</text>
<text x="122.15" y="372.5" class="tl" text-anchor="middle">1000</text>
<text x="141.75" y="372.5" class="tl" text-anchor="middle">1100</text>
<path d="M22.1 361.2H25.3M22.1 345.68H25.3M22.1 330.16H25.3M22.1 314.64H25.3M22.1 299.12H25.3M22.1 283.6H25.3M25.3 361.2V364.7M44.73 361.2V364.7M64.17 361.2V364.7M83.6 361.2V364.7M103.03 361.2V364.7M122.47 361.2V364.7M141.9 361.2V364.7" class="tk"/>
<text x="83.7" y="273.5" class="ti" text-anchor="middle">CCT</text>
<text x="83.35" y="380.1" class="xl" text-anchor="middle">CCT (µm)</text>
<text transform="translate(9.9 322.6) rotate(-90)" x="0" y="0" class="yl" text-anchor="middle">BCVA(logMAR)</text>
<text x="121.3" y="289.7" class="st">R<tspan class="sup" dx="0.5">2</tspan><tspan dx="0.6">=0.18</tspan></text>
<text x="125.4" y="297.7" class="st">p=0.0043*</text>
<path d="M39.4 337.2L121.8 310.3" class="rl"/>
<g class="dt"><circle cx="80.5" cy="299.4" r="1.6"/><circle cx="68.8" cy="304.3" r="1.6"/><circle cx="75" cy="304.3" r="1.6"/><circle cx="85.5" cy="308.9" r="1.6"/><circle cx="81.6" cy="314.5" r="1.6"/><circle cx="63.2" cy="318.1" r="1.6"/><circle cx="75.4" cy="318.1" r="1.6"/><circle cx="51.7" cy="321.4" r="1.6"/><circle cx="56.5" cy="321.4" r="1.6"/><circle cx="85.7" cy="321.4" r="1.6"/><circle cx="43.5" cy="325.9" r="1.6"/><circle cx="39.4" cy="329" r="1.6"/><circle cx="65" cy="325.9" r="1.6"/><circle cx="66.3" cy="325.9" r="1.6"/><circle cx="55.1" cy="330.5" r="1.6"/><circle cx="59" cy="330.5" r="1.6"/><circle cx="74.3" cy="330.5" r="1.6"/><circle cx="46.5" cy="336" r="1.6"/><circle cx="47.6" cy="336" r="1.6"/><circle cx="49.2" cy="339.6" r="1.6"/><circle cx="51.7" cy="339.6" r="1.6"/><circle cx="59.7" cy="339.6" r="1.6"/><circle cx="62.9" cy="339.6" r="1.6"/><circle cx="81.4" cy="339.6" r="1.6"/><circle cx="47.2" cy="345.4" r="1.6"/><circle cx="51" cy="345.4" r="1.6"/><circle cx="83.2" cy="345.4" r="1.6"/><circle cx="52.4" cy="349.2" r="1.6"/><circle cx="72.3" cy="352.1" r="1.6"/><circle cx="90.5" cy="299.4" r="1.6"/><circle cx="92.5" cy="304.3" r="1.6"/><circle cx="105.1" cy="304.3" r="1.6"/><circle cx="90.8" cy="308.9" r="1.6"/><circle cx="95.1" cy="308.9" r="1.6"/><circle cx="110.3" cy="308.9" r="1.6"/><circle cx="95.5" cy="327.3" r="1.6"/><circle cx="87.5" cy="330.5" r="1.6"/><circle cx="90" cy="330.5" r="1.6"/><circle cx="121.6" cy="330.5" r="1.6"/><circle cx="88.7" cy="339.6" r="1.6"/><circle cx="90.5" cy="349.2" r="1.6"/></g>
<path d="M217.7 284V361.3H333.5" class="ax"/>
<text x="213.1" y="363.55" class="tl" text-anchor="end">0.0</text>
<text x="213.1" y="348.39" class="tl" text-anchor="end">0.5</text>
<text x="213.1" y="333.23" class="tl" text-anchor="end">1.0</text>
<text x="213.1" y="318.07" class="tl" text-anchor="end">1.5</text>
<text x="213.1" y="302.91" class="tl" text-anchor="end">2.0</text>
<text x="213.1" y="287.75" class="tl" text-anchor="end">2.5</text>
<text x="219.25" y="372.6" class="tl" text-anchor="middle">500</text>
<text x="241.55" y="372.6" class="tl" text-anchor="middle">600</text>
<text x="264.05" y="372.6" class="tl" text-anchor="middle">700</text>
<text x="286.05" y="372.6" class="tl" text-anchor="middle">800</text>
<text x="308.55" y="372.6" class="tl" text-anchor="middle">900</text>
<text x="333.05" y="372.6" class="tl" text-anchor="middle">1000</text>
<path d="M214.5 361.3H217.7M214.5 345.84H217.7M214.5 330.38H217.7M214.5 314.92H217.7M214.5 299.46H217.7M214.5 284H217.7M217.7 361.3V364.8M240.86 361.3V364.8M264.02 361.3V364.8M287.18 361.3V364.8M310.34 361.3V364.8M333.5 361.3V364.8" class="tk"/>
<text x="275.2" y="274.3" class="ti" text-anchor="middle">CCT (Intraocular surgery)</text>
<text x="275.85" y="380.5" class="xl" text-anchor="middle">CCT (µm)</text>
<text transform="translate(199.9 322.85) rotate(-90)" x="0" y="0" class="yl" text-anchor="middle">BCVA(logMAR)</text>
<text x="309.4" y="289.7" class="st">R<tspan class="sup" dx="0.5">2</tspan><tspan dx="0.6">=0.25</tspan></text>
<text x="313.5" y="297.7" class="st">p=0.020*</text>
<path d="M239.4 334.4L313.1 308.9" class="rl"/>
<g class="dt"><circle cx="269.7" cy="304.6" r="1.6"/><circle cx="277.3" cy="304.4" r="1.6"/><circle cx="262.9" cy="318.5" r="1.6"/><circle cx="249.1" cy="321.5" r="1.6"/><circle cx="239.6" cy="326.2" r="1.6"/><circle cx="265.1" cy="326.2" r="1.6"/><circle cx="276.3" cy="330.8" r="1.6"/><circle cx="243" cy="336.4" r="1.6"/><circle cx="244.6" cy="336.4" r="1.6"/><circle cx="246" cy="340.1" r="1.6"/><circle cx="249.4" cy="340.1" r="1.6"/><circle cx="248.2" cy="345.8" r="1.6"/><circle cx="283.4" cy="299.9" r="1.6"/><circle cx="298" cy="304.4" r="1.6"/><circle cx="313.1" cy="304.4" r="1.6"/><circle cx="289.4" cy="309.2" r="1.6"/><circle cx="295.9" cy="309.2" r="1.6"/><circle cx="301.7" cy="327.8" r="1.6"/><circle cx="284.8" cy="339.9" r="1.6"/><circle cx="295.6" cy="349.2" r="1.6"/></g>
<path d="M388.3 283.8V361.3H504.4" class="ax"/>
<text x="383.7" y="363.55" class="tl" text-anchor="end">0.0</text>
<text x="383.7" y="348.35" class="tl" text-anchor="end">0.5</text>
<text x="383.7" y="333.15" class="tl" text-anchor="end">1.0</text>
<text x="383.7" y="317.95" class="tl" text-anchor="end">1.5</text>
<text x="383.7" y="302.75" class="tl" text-anchor="end">2.0</text>
<text x="383.7" y="287.55" class="tl" text-anchor="end">2.5</text>
<text x="387.65" y="372.6" class="tl" text-anchor="middle">500</text>
<text x="407.05" y="372.6" class="tl" text-anchor="middle">600</text>
<text x="426.45" y="372.6" class="tl" text-anchor="middle">700</text>
<text x="446.05" y="372.6" class="tl" text-anchor="middle">800</text>
<text x="465.65" y="372.6" class="tl" text-anchor="middle">900</text>
<text x="484.25" y="372.6" class="tl" text-anchor="middle">1000</text>
<text x="503.75" y="372.6" class="tl" text-anchor="middle">1100</text>
<path d="M385.1 361.3H388.3M385.1 345.8H388.3M385.1 330.3H388.3M385.1 314.8H388.3M385.1 299.3H388.3M385.1 283.8H388.3M388.3 361.3V364.8M407.65 361.3V364.8M427 361.3V364.8M446.35 361.3V364.8M465.7 361.3V364.8M485.05 361.3V364.8M504.4 361.3V364.8" class="tk"/>
<text x="446.1" y="273.8" class="ti" text-anchor="middle">CCT (Laser iridotomy)</text>
<text x="446.45" y="380.5" class="xl" text-anchor="middle">CCT (µm)</text>
<text transform="translate(370.9 322.75) rotate(-90)" x="0" y="0" class="yl" text-anchor="middle">BCVA(logMAR)</text>
<text x="481.3" y="289.7" class="st">R<tspan class="sup" dx="0.5">2</tspan><tspan dx="0.6">=0.15</tspan></text>
<text x="485.2" y="297.7" class="st">p=0.12</text>
<g class="dt"><circle cx="444.3" cy="314.2" r="1.6"/><circle cx="438" cy="317.9" r="1.6"/><circle cx="419.3" cy="321.1" r="1.6"/><circle cx="448" cy="321.1" r="1.6"/><circle cx="428.9" cy="325.5" r="1.6"/><circle cx="402.3" cy="328.7" r="1.6"/><circle cx="417.7" cy="330.2" r="1.6"/><circle cx="436.7" cy="330.2" r="1.6"/><circle cx="422.2" cy="339.4" r="1.6"/><circle cx="425.7" cy="339.4" r="1.6"/><circle cx="435" cy="351.7" r="1.6"/><circle cx="453" cy="299.4" r="1.6"/><circle cx="457.6" cy="308.7" r="1.6"/><circle cx="472.6" cy="308.7" r="1.6"/><circle cx="450.3" cy="330.2" r="1.6"/><circle cx="452.8" cy="330.2" r="1.6"/><circle cx="484.1" cy="330.2" r="1.6"/></g>
<path d="M566.2 283.7V361H643.4" class="ax"/>
<text x="561.6" y="363.25" class="tl" text-anchor="end">0.0</text>
<text x="561.6" y="337.98" class="tl" text-anchor="end">0.5</text>
<text x="561.6" y="312.72" class="tl" text-anchor="end">1.0</text>
<text x="561.6" y="287.45" class="tl" text-anchor="end">1.5</text>
<text x="565.55" y="372.3" class="tl" text-anchor="middle">600</text>
<text x="580.95" y="372.3" class="tl" text-anchor="middle">650</text>
<text x="596.75" y="372.3" class="tl" text-anchor="middle">700</text>
<text x="612.35" y="372.3" class="tl" text-anchor="middle">750</text>
<text x="627.95" y="372.3" class="tl" text-anchor="middle">800</text>
<text x="643.55" y="372.3" class="tl" text-anchor="middle">850</text>
<path d="M563 361H566.2M563 335.23H566.2M563 309.47H566.2M563 283.7H566.2M566.2 361V364.5M581.64 361V364.5M597.08 361V364.5M612.52 361V364.5M627.96 361V364.5M643.4 361V364.5" class="tk"/>
<text x="604.9" y="273.8" class="ti" text-anchor="middle">CCT(FECD)</text>
<text x="604.95" y="380.4" class="xl" text-anchor="middle">CCT (µm)</text>
<text transform="translate(549.1 322.55) rotate(-90)" x="0" y="0" class="yl" text-anchor="middle">BCVA(logMAR)</text>
<text x="646.9" y="290.8" class="st">R<tspan class="sup" dx="0.5">2</tspan><tspan dx="0.6">=0.16</tspan></text>
<text x="653.3" y="297.6" class="st">p=0.84</text>
<g class="dt"><circle cx="588.7" cy="309.6" r="1.6"/><circle cx="570.3" cy="334.3" r="1.6"/><circle cx="578.5" cy="340.5" r="1.6"/><circle cx="627.3" cy="334.3" r="1.6"/><circle cx="636.1" cy="325" r="1.6"/></g>
<text x="6.2" y="8.8" class="pl">a</text>
<text x="5.5" y="275.1" class="pl">b</text>
</svg></body></html>
